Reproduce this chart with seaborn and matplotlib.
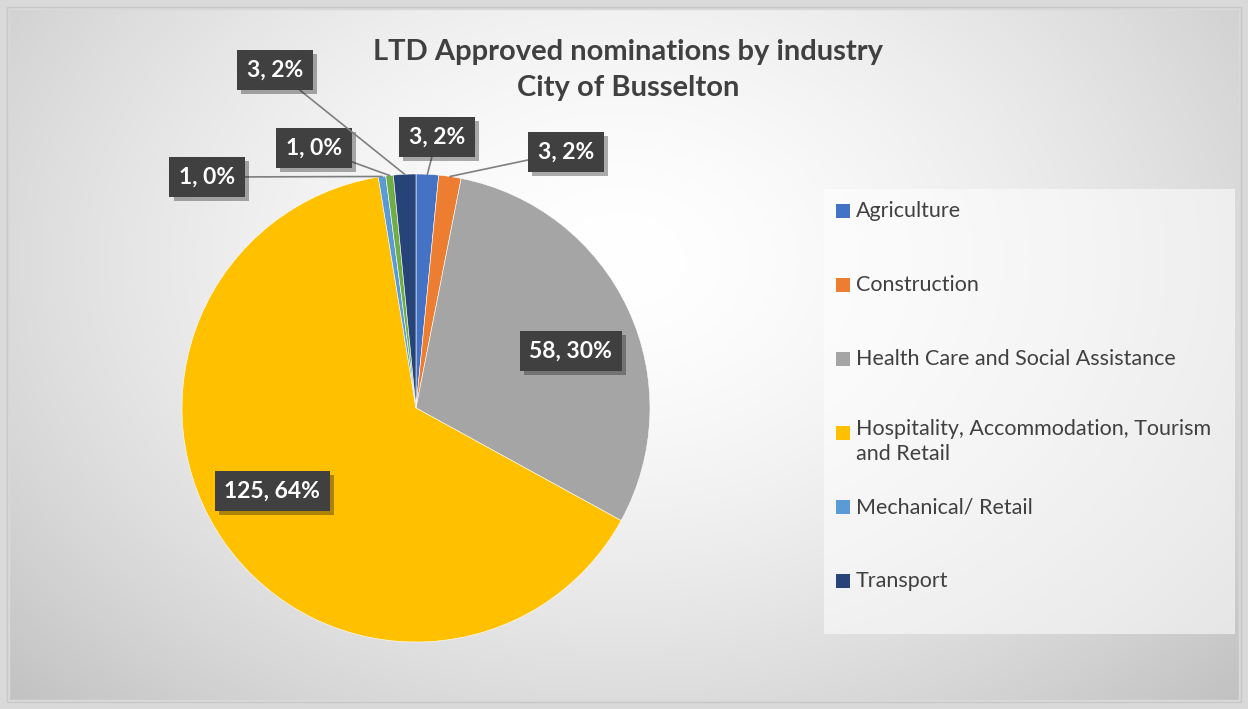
import numpy as np
import matplotlib
matplotlib.use("Agg")
import matplotlib.pyplot as plt
import matplotlib.patheffects as pe
from matplotlib.patches import Rectangle
import seaborn as sns

# datos
industries = ["Agriculture", "Construction", "Health Care and Social Assistance",
              "Hospitality, Accommodation, Tourism\nand Retail", "Mechanical/ Retail",
              "Other", "Transport"]
counts = [3, 3, 58, 125, 1, 1, 3]
pct_labels = [2, 2, 30, 64, 0, 0, 2]
legend_items = [0, 1, 2, 3, 4, 6]  # la leyenda del original solo muestra 6 categorias
colors = ["#4472C4", "#ED7D31", "#A5A5A5", "#FFC000", "#5B9BD5", "#70AD47", "#264478"]

# posicion de cada etiqueta (coordenadas del eje, radio = 1)
label_pos = [(0.09, 1.158), (0.64, 1.094), (0.662, 0.244), (-0.615, -0.355),
             (-0.893, 0.987), (-0.436, 1.111), (-0.603, 1.444)]
inside = [False, False, True, True, False, False, False]

sns.set_theme(style="white")
plt.rcParams["font.family"] = ["Lato", "DejaVu Sans"]

W, H = 1248, 709
fig = plt.figure(figsize=(W / 100, H / 100), dpi=100)

# fondo con degradado radial
bg = fig.add_axes([0, 0, 1, 1])
yy, xx = np.mgrid[0:H, 0:W]
d = np.sqrt(((xx - 620) / 760) ** 2 + ((yy - 260) / 560) ** 2)
g = 1.0 - 0.2 * np.clip(d, 0, 1.2) ** 1.6
bg.imshow(np.dstack([g, g, g]), extent=[0, W, H, 0], aspect="auto")
bg.add_patch(Rectangle((0, 0), W, H, fill=False, ec="#d9d9d9", lw=14))
bg.add_patch(Rectangle((7, 7), W - 14, H - 14, fill=False, ec="#c8c8c8", lw=1))
# caja de la leyenda
bg.add_patch(Rectangle((824, 189), 411, 445, fc="white", alpha=0.55, ec="none"))
bg.set_xlim(0, W)
bg.set_ylim(H, 0)
bg.axis("off")

# pie
r = 234
cx, cy = 416, 408
ax = fig.add_axes([(cx - 1.7 * r) / W, (H - cy - 1.3 * r) / H, 3.4 * r / W, 3.0 * r / H])
ax.patch.set_alpha(0)
wedges, _ = ax.pie(counts, colors=colors, startangle=90, counterclock=False,
                   radius=1, wedgeprops=dict(edgecolor="white", linewidth=0.4))
ax.set_xlim(-1.7, 1.7)
ax.set_ylim(-1.3, 1.7)
ax.set_aspect("equal")
ax.axis("off")

box = dict(boxstyle="square,pad=0.42", fc="#404040", ec="none")
for w, n, p, pos, ins in zip(wedges, counts, pct_labels, label_pos, inside):
    ang = np.deg2rad((w.theta1 + w.theta2) / 2)
    tip = (np.cos(ang), np.sin(ang))
    arrow = None if ins else dict(arrowstyle="-", color="#7f7f7f", lw=1.2,
                                  shrinkA=0, shrinkB=0)
    t = ax.annotate(f"{n}, {p}%", xy=tip, xytext=pos, ha="center", va="center",
                    fontsize=16.5, fontweight="bold", color="white", bbox=box,
                    arrowprops=arrow)
    t.get_bbox_patch().set_path_effects([pe.withSimplePatchShadow(offset=(3, -3), alpha=0.35)])

# titulo
fig.text(628 / W, 1 - 70 / H, "LTD Approved nominations by industry\nCity of Busselton",
         ha="center", va="center", fontsize=21, fontweight="bold", color="#404040",
         linespacing=1.5)

# leyenda
for k, i in enumerate(legend_items):
    ycen = 211 + 74 * k
    bg.add_patch(Rectangle((836, ycen - 7), 14, 14, fc=colors[i], ec="none"))
    if "\n" in industries[i]:
        bg.text(856, ycen - 14, industries[i], ha="left", va="top", fontsize=15.5,
                color="#404040", linespacing=1.3)
    else:
        bg.text(856, ycen, industries[i], ha="left", va="center", fontsize=15.5,
                color="#404040")

fig.savefig("out.png", dpi=100)
